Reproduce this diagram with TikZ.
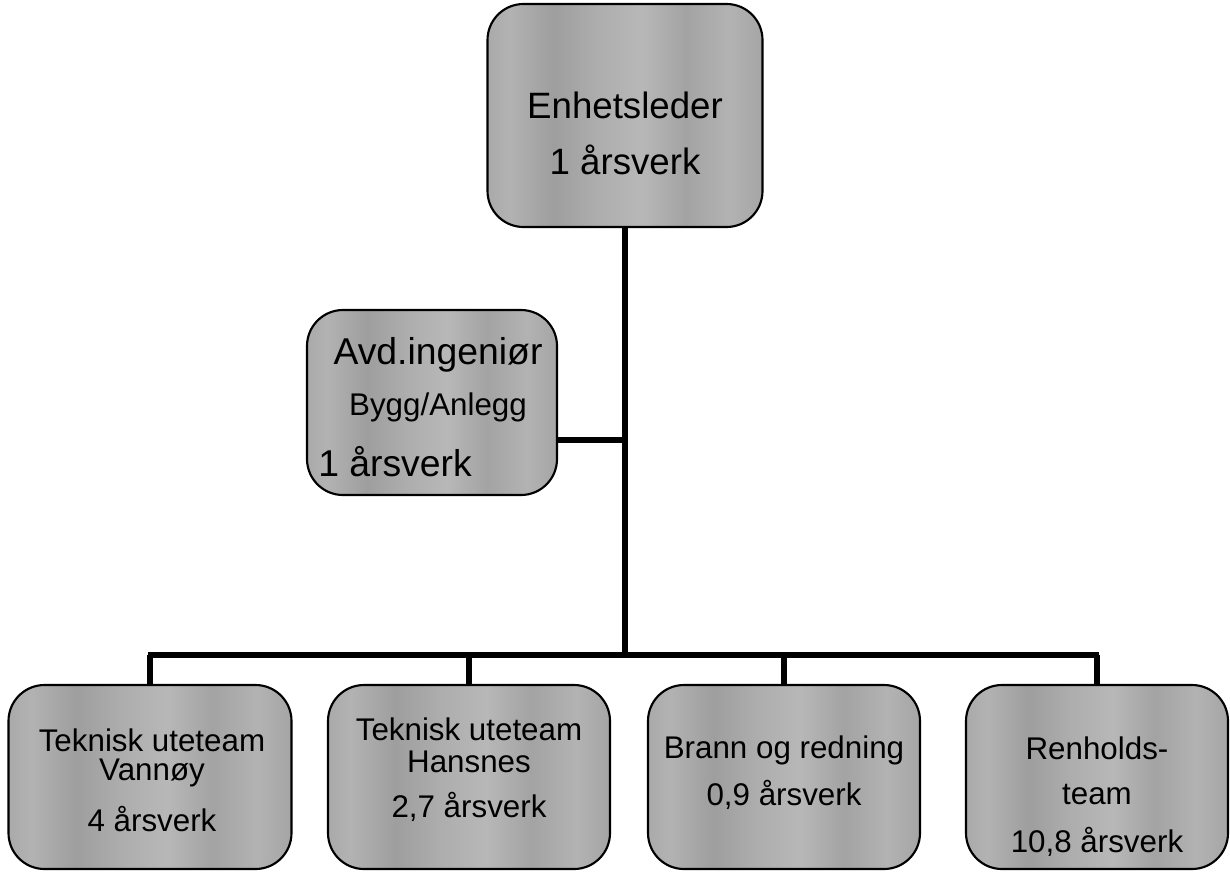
\documentclass[tikz,border=0pt]{standalone}
\usepackage{fontspec}
\setmainfont{Liberation Sans}
\pgfdeclarehorizontalshading{streaks}{100bp}{color(0bp)=(black!28); color(7bp)=(black!35); color(13bp)=(black!29); color(21bp)=(black!37); color(29bp)=(black!30); color(37bp)=(black!38); color(45bp)=(black!32); color(53bp)=(black!28); color(61bp)=(black!36); color(69bp)=(black!30); color(77bp)=(black!37); color(85bp)=(black!31); color(93bp)=(black!35); color(100bp)=(black!29)}
\tikzset{
  unit/.style={draw, line width=1.6pt, rounded corners=27pt, shading=streaks, inner sep=0pt},
  boxsize/.style 2 args={minimum width=#1*0.75pt, minimum height=#2*0.75pt},
  link/.style={line width=3.8pt},
  big/.style={inner sep=0pt, font=\fontsize{27.5}{32}\selectfont},
  small/.style={inner sep=0pt, font=\fontsize{23.5}{28}\selectfont},
}
\begin{document}
\begin{tikzpicture}[x=0.75pt,y=-0.75pt]
  \useasboundingbox (0,0) rectangle (1230,871);

  \node[unit, boxsize={275}{223}] (leder) at (625,115.5) {};
  \node[unit, boxsize={250}{185}] (avd) at (432,402.5) {};

  \node[unit, boxsize={283}{184}] (t1) at (150,777) {};
  \node[unit, boxsize={282}{184}] (t2) at (469,777) {};
  \node[unit, boxsize={272}{184}] (t3) at (784,777) {};
  \node[unit, boxsize={262}{184}] (t4) at (1097,777) {};

  \coordinate (bus) at (625,655);

  \draw[link] (leder.south) -- (bus);
  \draw[link] (avd.east) ++(0,37.5) coordinate (avd-link) -- (avd-link -| leder.south);

  \draw[link] ([xshift=-1.4pt]t1.north |- bus) -- ([xshift=1.4pt]t4.north |- bus);
  \draw[link] (t1.north |- bus) -- (t1.north);
  \draw[link] (t2.north |- bus) -- (t2.north);
  \draw[link] (t3.north |- bus) -- (t3.north);
  \draw[link] (t4.north |- bus) -- (t4.north);

  \node[big] (leder-a) at (625,105) {Enhetsleder};
  \node[big] (leder-b) at (625,160) {1 årsverk};

  \node[big, font=\fontsize{28}{32}\selectfont] (avd-a) at (438,355) {Avd.ingeniør};
  \node[big, font=\fontsize{23.5}{30}\selectfont] (avd-b) at (438,407) {Bygg/Anlegg};
  \node[big, font=\fontsize{28}{34}\selectfont, anchor=west] (avd-c) at (318,462) {1 årsverk};

  \node[small] (t1-a) at (152,740) {Teknisk uteteam};
  \node[small] (t1-b) at (152,773) {Vannøy};
  \node[small] (t1-c) at (152,819) {4 årsverk};

  \node[small] (t2-a) at (469,729) {Teknisk uteteam};
  \node[small] (t2-b) at (469,762) {Hansnes};
  \node[small] (t2-c) at (469,807) {2,7 årsverk};

  \node[small] (t3-a) at (784,750) {Brann og redning};
  \node[small] (t3-b) at (784,795) {0,9 årsverk};

  \node[small] (t4-a) at (1097,748) {Renholds-};
  \node[small] (t4-b) at (1097,795) {team};
  \node[small] (t4-c) at (1097,842) {10,8 årsverk};
\end{tikzpicture}
\end{document}
